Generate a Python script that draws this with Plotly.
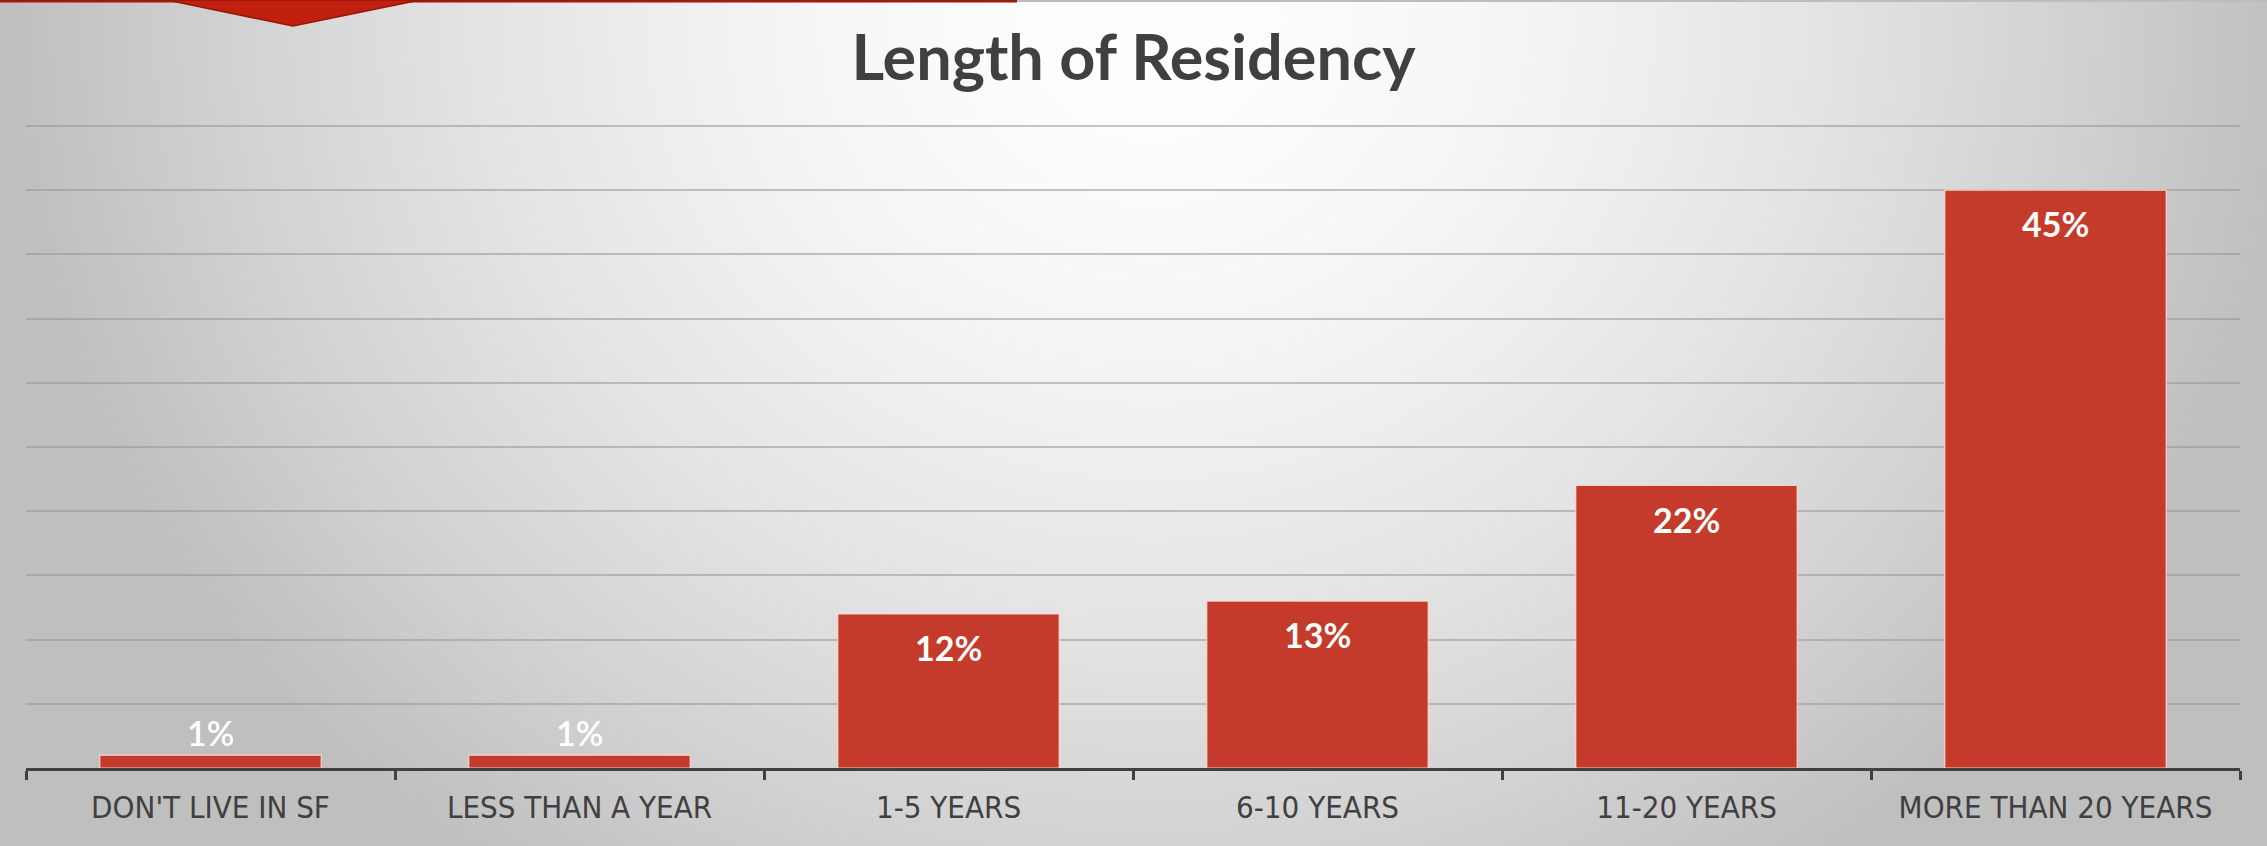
import base64
import struct
import zlib

import numpy as np
import plotly.graph_objects as go

# ---- data -------------------------------------------------------------
categories = [
    "DON'T LIVE IN SF",
    "LESS THAN A YEAR",
    "1-5 YEARS",
    "6-10 YEARS",
    "11-20 YEARS",
    "MORE THAN 20 YEARS",
]
shares = [1, 1, 12, 13, 22, 45]
share_labels = [f"{v}%" for v in shares]

# ---- page geometry ----------------------------------------------------
W, H = 2267, 846
TEXT_DARK = "#404040"
BAR_RED = "#c43b2b"


def fx(x):
    return x / W


def fy(y):
    return 1 - y / H


def png_uri(rgb):
    """Encode an HxWx3 uint8 array as a PNG data URI."""
    h, w, _ = rgb.shape
    raw = b"".join(b"\x00" + rgb[i].tobytes() for i in range(h))

    def chunk(tag, data):
        c = struct.pack(">I", len(data)) + tag + data
        return c + struct.pack(">I", zlib.crc32(tag + data) & 0xFFFFFFFF)

    png = b"\x89PNG\r\n\x1a\n"
    png += chunk(b"IHDR", struct.pack(">IIBBBBB", w, h, 8, 2, 0, 0, 0))
    png += chunk(b"IDAT", zlib.compress(raw, 9))
    png += chunk(b"IEND", b"")
    return "data:image/png;base64," + base64.b64encode(png).decode()


# soft radial backdrop: white near the title, grey toward the edges
gw, gh = 567, 212
yy, xx = np.mgrid[0:gh, 0:gw]
px_x = (xx + 0.5) * W / gw
px_y = (yy + 0.5) * H / gh
r = np.hypot(px_x - 1150, (px_y - 20) * 1.1) / 1150
shade = 255 - 64 * np.clip(r, 0, 1) ** 1.6
shade = np.clip(shade, 0, 255).astype(np.uint8)
backdrop = np.stack([shade, shade, shade], axis=-1)

# ---- figure -----------------------------------------------------------
fig = go.Figure(
    go.Bar(
        x=categories,
        y=shares,
        marker=dict(color=BAR_RED, line=dict(color="rgba(255,225,215,0.85)", width=1.2)),
        hoverinfo="skip",
    )
)

for cat, v, lab in zip(categories, shares, share_labels):
    inside = v >= 5
    fig.add_annotation(
        x=cat,
        y=v,
        text=f"<b>{lab}</b>" if inside else lab,
        showarrow=False,
        xanchor="center",
        yanchor="top" if inside else "bottom",
        yshift=-11 if inside else 0,
        font=dict(family="Lato", size=34, color="white",
                  weight=700 if inside else 600),
    )

# plot box in page pixels; 50% sits at y=126, baseline at y=768
x_left, x_right = 26, 2240
y_base = 768
px_per_unit = (768 - 126) / 50
y_max = 50.3
y_top = y_base - y_max * px_per_unit

fig.update_layout(
    width=W,
    height=H,
    margin=dict(l=0, r=0, t=0, b=0),
    paper_bgcolor="#d0d0d0",
    plot_bgcolor="rgba(0,0,0,0)",
    bargap=0.4,
    showlegend=False,
    title=dict(
        text="Length of Residency",
        x=0.5,
        xanchor="center",
        xref="paper",
        y=fy(58),
        yref="paper",
        yanchor="middle",
        font=dict(family="Lato", size=63, color=TEXT_DARK, weight=700),
    ),
    xaxis=dict(
        domain=[fx(x_left), fx(x_right)],
        showline=True,
        linecolor=TEXT_DARK,
        linewidth=3,
        ticks="outside",
        tickson="boundaries",
        ticklen=9,
        tickwidth=2.5,
        tickcolor=TEXT_DARK,
        ticklabelstandoff=10,
        tickfont=dict(family="Liberation Sans Narrow, DejaVu Sans Condensed, sans-serif",
                      size=31, color=TEXT_DARK),
        showgrid=False,
        fixedrange=True,
    ),
    yaxis=dict(
        domain=[fy(y_base), fy(y_top)],
        range=[0, y_max],
        tick0=0,
        dtick=5,
        showgrid=True,
        gridcolor="rgba(150,150,150,0.55)",
        gridwidth=2,
        zeroline=False,
        showticklabels=False,
        showline=False,
        fixedrange=True,
    ),
    images=[
        dict(
            source=png_uri(backdrop),
            xref="paper",
            yref="paper",
            x=0,
            y=1,
            sizex=1,
            sizey=1,
            xanchor="left",
            yanchor="top",
            sizing="stretch",
            layer="below",
        )
    ],
    shapes=[
        # thin rule along the top edge
        dict(type="rect", xref="paper", yref="paper",
             x0=fx(1017), x1=1, y0=fy(2), y1=1,
             fillcolor="#bdbdbd", line_width=0, layer="above"),
        dict(type="rect", xref="paper", yref="paper",
             x0=0, x1=fx(1017), y0=fy(2.5), y1=1,
             fillcolor="#9b1c0c", line_width=0, layer="above"),
        # red pennant hanging from the rule
        dict(type="path", xref="paper", yref="paper",
             path=f"M {fx(167)},{fy(0)} L {fx(420)},{fy(0)} L {fx(293)},{fy(26)} Z",
             fillcolor="#c2200e", line=dict(color="#961607", width=1.5), layer="above"),
    ],
)

fig.write_html("out.html", config=dict(displayModeBar=False))
